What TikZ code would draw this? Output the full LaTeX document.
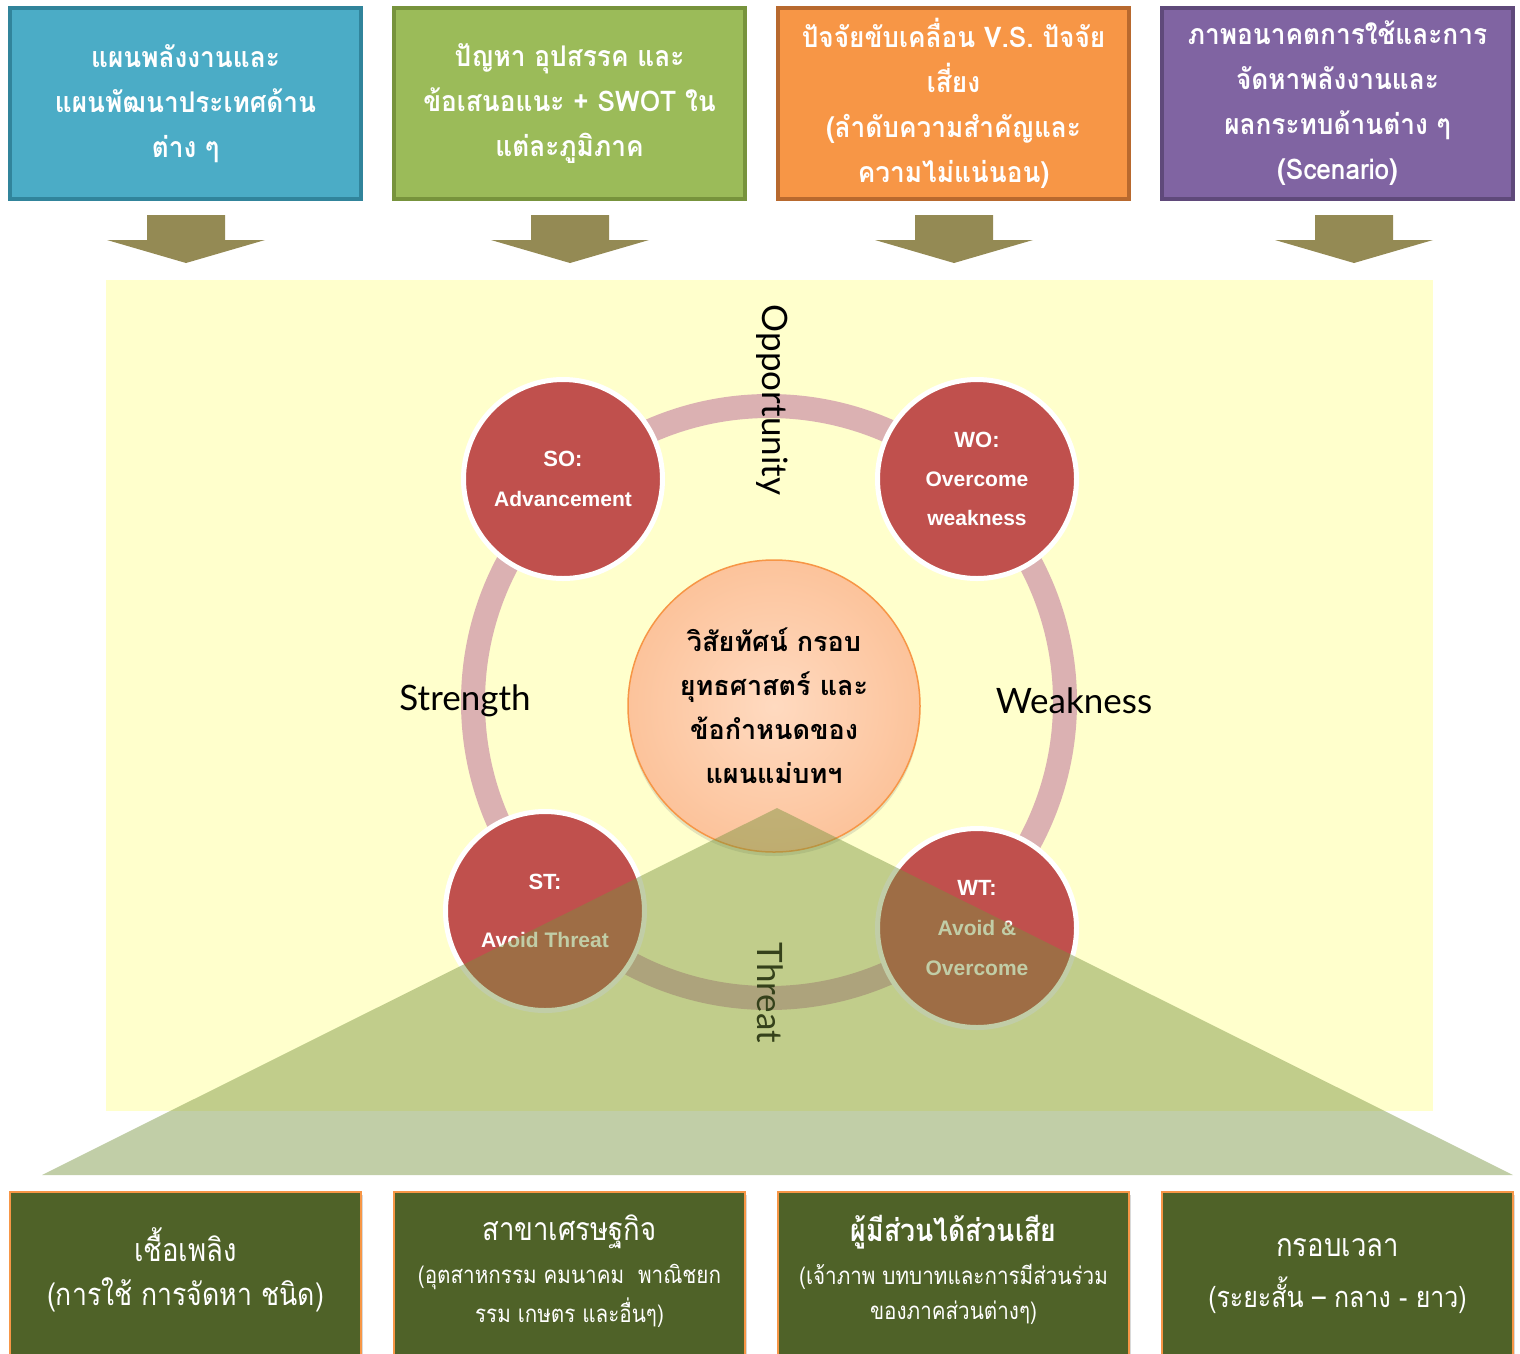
\documentclass[tikz,border=0pt]{standalone}
\usepackage{fontspec}
\setmainfont{Liberation Sans}
\newfontfamily\thai[Script=Thai]{Loma}
\newfontfamily\thaic[Script=Thai,FakeStretch=0.86]{Loma}
\newfontfamily\thaib[Script=Thai,FakeStretch=0.92]{Loma}
\newfontfamily\gill{Lato}
\usetikzlibrary{shadows}
\definecolor{teal1}{HTML}{4BACC6}\definecolor{teal2}{HTML}{31849B}
\definecolor{grn1}{HTML}{9BBB59}\definecolor{grn2}{HTML}{77933C}
\definecolor{org1}{HTML}{F79646}\definecolor{org2}{HTML}{B8692E}
\definecolor{pur1}{HTML}{8064A2}\definecolor{pur2}{HTML}{5F497A}
\definecolor{arrowc}{HTML}{948A54}
\definecolor{panel}{HTML}{FFFFCC}
\definecolor{ringc}{HTML}{DBB1B2}
\definecolor{redc}{HTML}{C0504D}
\definecolor{trig}{HTML}{76923C}
\definecolor{dkgrn}{HTML}{4F6228}
\definecolor{peachin}{HTML}{FFDAC0}
\definecolor{peachout}{HTML}{FCC39B}
\begin{document}
\begin{tikzpicture}[x=1pt,y=-1pt,
  topbox/.style={draw=#1, line width=4pt, minimum width=351pt, minimum height=191pt,
    inner sep=0pt, align=center, text=white,
    font=\thaib\bfseries\fontsize{28.5}{45}\selectfont},
  botbox/.style={draw=org1, fill=dkgrn, line width=2pt, minimum width=351pt,
    minimum height=175pt, inner sep=0pt,
    drop shadow={opacity=0.3, shadow xshift=2pt, shadow yshift=-3pt}},
  botbig/.style={text=white, inner sep=0pt, font=\thaic\fontsize{32}{36}\selectfont},
  botsmall/.style={text=white, inner sep=0pt, font=\thaic\fontsize{24}{30}\selectfont},
  swot/.style={circle, fill=redc, draw=white, line width=5pt, minimum size=199pt,
    inner sep=0pt, align=center, text=white, font=\bfseries\fontsize{21}{40}\selectfont},
  side/.style={inner sep=0pt, font=\gill\fontsize{35}{40}\selectfont}
]
\path[use as bounding box] (0,0) rectangle (1520,1353);
\clip (0,0) rectangle (1520,1353);

% top boxes
\node[topbox=teal2, fill=teal1] (t1) at (185.5,103.5)
  {แผนพลังงานและ\\แผนพัฒนาประเทศด้าน\\ต่าง ๆ};
\node[topbox=grn2, fill=grn1] (t2) at (569.5,103.5)
  {ปัญหา อุปสรรค และ\\ข้อเสนอแนะ + SWOT ใน\\แต่ละภูมิภาค};
\node[topbox=org2, fill=org1] (t3) at (953.5,103.5)
  {ปัจจัยขับเคลื่อน V.S. ปัจจัย\\เสี่ยง\\(ลำดับความสำคัญและ\\ความไม่แน่นอน)};
\node[topbox=pur2, fill=pur1] (t4) at (1337.5,103.5)
  {ภาพอนาคตการใช้และการ\\จัดหาพลังงานและ\\ผลกระทบด้านต่าง ๆ\\(Scenario)};

% block arrows
\foreach \cx in {186,570,954,1354}{
  \fill[arrowc] (\cx-39,215) -- (\cx+39,215) -- (\cx+39,240) -- (\cx+79,240)
    -- (\cx,263) -- (\cx-79,240) -- (\cx-39,240) -- cycle;
}

% panel
\fill[panel] (106,280) rectangle (1433,1111);
\draw[ringc, line width=24pt] (769,702) circle[radius=296];

\node[swot] (so) at (563,479) {{\fontsize{22}{40}\selectfont SO:}\\Advancement};
\node[swot, font=\bfseries\fontsize{21}{39}\selectfont] (wo) at (977,479)
  {{\fontsize{22}{39}\selectfont WO:}\\Overcome\\weakness};
\node[swot, font=\bfseries\fontsize{21}{58}\selectfont] (st) at (545,911)
  {{\fontsize{22}{58}\selectfont ST:}\\Avoid Threat};
\node[swot] (wt) at (977,928) {{\fontsize{22}{40}\selectfont WT:}\\Avoid \&\\Overcome};

\node[side] (strength) at (465,701) {Strength};
\node[side] (weakness) at (1074,701) {Weakness};
\node[side, rotate=-90] (opp) at (772,400) {Opportunity};
\node[side, rotate=-90] (threat) at (770,993) {Threat};

\node[circle, minimum size=292pt, draw=org1, line width=1.5pt, inner sep=0pt,
  inner color=peachin, outer color=peachout, align=center,
  drop shadow={opacity=0.22, shadow xshift=0pt, shadow yshift=-4pt},
  font=\thai\bfseries\fontsize{27}{44}\selectfont] (vision) at (774,706)
  {วิสัยทัศน์ กรอบ\\ยุทธศาสตร์ และ\\ข้อกำหนดของ\\แผนแม่บทฯ};

% translucent triangle
\fill[trig, opacity=0.45] (777,808) -- (1513,1175) -- (42,1175) -- cycle;

% bottom boxes
\node[botbox] (b1) at (185.5,1279.5) {};
\node[botbox] (b2) at (569.5,1279.5) {};
\node[botbox] (b3) at (953.5,1279.5) {};
\node[botbox] (b4) at (1337.5,1279.5) {};

\node[botbig] (b1a) at (185.5,1245) {เชื้อเพลิง};
\node[botbig, font=\thaic\fontsize{31}{36}\selectfont] (b1b) at (185.5,1295) {(การใช้ การจัดหา ชนิด)};
\node[botbig] (b2a) at (569.5,1232) {สาขาเศรษฐกิจ};
\node[botsmall] (b2b) at (569.5,1277) {(อุตสาหกรรม คมนาคม\ \ พาณิชยก};
\node[botsmall] (b2c) at (569.5,1313) {รรม เกษตร และอื่นๆ)};
\node[botbig, font=\thaic\bfseries\fontsize{31}{36}\selectfont] (b3a) at (953.5,1232) {ผู้มีส่วนได้ส่วนเสีย};
\node[botsmall] (b3b) at (953.5,1277) {(เจ้าภาพ บทบาทและการมีส่วนร่วม};
\node[botsmall] (b3c) at (953.5,1313) {ของภาคส่วนต่างๆ)};
\node[botbig] (b4a) at (1337.5,1248) {กรอบเวลา};
\node[botbig, font=\thaic\fontsize{29}{36}\selectfont] (b4b) at (1337.5,1295) {(ระยะสั้น – กลาง - ยาว)};
\end{tikzpicture}
\end{document}
